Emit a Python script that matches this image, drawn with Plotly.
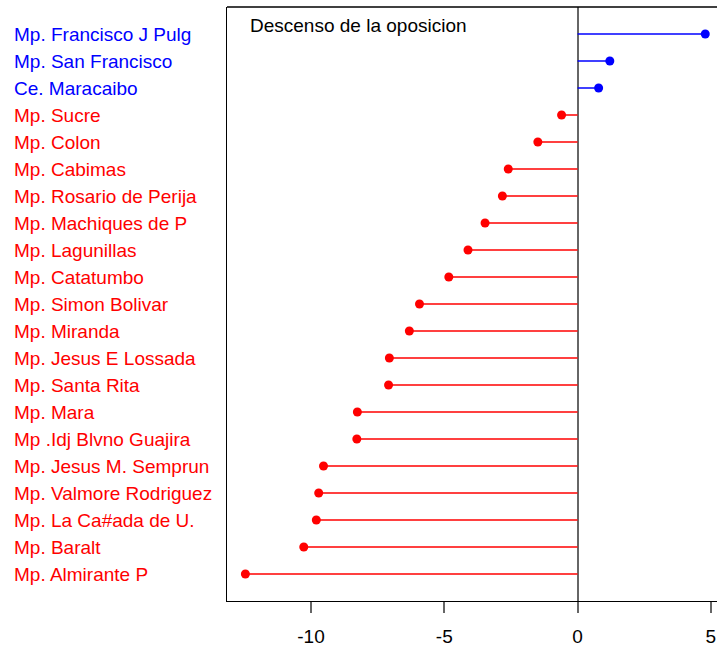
import plotly.graph_objects as go

categories = [
    "Mp. Almirante P", "Mp. Baralt", "Mp. La Ca#ada de U.", "Mp. Valmore Rodriguez",
    "Mp. Jesus M. Semprun", "Mp .Idj Blvno Guajira", "Mp. Mara", "Mp. Santa Rita",
    "Mp. Jesus E Lossada", "Mp. Miranda", "Mp. Simon Bolivar", "Mp. Catatumbo",
    "Mp. Lagunillas", "Mp. Machiques de P", "Mp. Rosario de Perija", "Mp. Cabimas",
    "Mp. Colon", "Mp. Sucre", "Ce. Maracaibo", "Mp. San Francisco", "Mp. Francisco J Pulg",
]
values = [
    -12.46, -10.27, -9.80, -9.71,
    -9.53, -8.28, -8.26, -7.09,
    -7.06, -6.31, -5.93, -4.83,
    -4.11, -3.47, -2.82, -2.60,
    -1.49, -0.60, 0.79, 1.21, 4.79,
]
tick_vals = [-10, -5, 0, 5]
title_text = "Descenso de la oposicion"

POS = "#0000FF"
NEG = "#FF0000"
colors = [POS if v > 0 else NEG for v in values]
rows = list(range(1, len(categories) + 1))

FONT = "Liberation Sans, Arial, sans-serif"

fig = go.Figure()

for color in (NEG, POS):
    xs, ys = [], []
    for r, v, c in zip(rows, values, colors):
        if c == color:
            xs += [0, v, None]
            ys += [r, r, None]
    fig.add_trace(go.Scatter(x=xs, y=ys, mode="lines",
                             line=dict(color=color, width=1.5),
                             hoverinfo="skip", showlegend=False))

fig.add_trace(go.Scatter(x=values, y=rows, mode="markers",
                         marker=dict(color=colors, size=9, line=dict(width=0)),
                         text=categories, showlegend=False, cliponaxis=False))

W, H = 717, 650
L, R, T, B = 227, 0, 7, 49
plot_w = W - L - R

annotations = []
for r, name, c in zip(rows, categories, colors):
    annotations.append(dict(x=(12 - L) / plot_w, xref="paper", y=r, yref="y",
                            text=name, showarrow=False, xanchor="left", yanchor="middle",
                            font=dict(family=FONT, size=19, color=c)))
annotations.append(dict(x=(248 - L) / plot_w, xref="paper", y=0.969, yref="paper",
                        text=title_text, showarrow=False, xanchor="left", yanchor="middle",
                        font=dict(family=FONT, size=19, color="black")))

fig.update_layout(
    width=W, height=H,
    margin=dict(l=L, r=R, t=T, b=B, pad=0),
    plot_bgcolor="white", paper_bgcolor="white",
    font=dict(family=FONT, size=19, color="black"),
    annotations=annotations,
    shapes=[dict(type="line", xref="paper", yref="paper", x0=0, x1=1, y0=1, y1=1,
                 line=dict(color="black", width=1.3))],
    xaxis=dict(range=[-13.15, 5.23], tickvals=tick_vals, ticktext=[str(t) for t in tick_vals],
               ticks="outside", ticklen=11, tickwidth=2, tickcolor="#666666",
               ticklabelstandoff=7,
               showgrid=False, zeroline=True, zerolinecolor="#666666", zerolinewidth=2,
               showline=True, linecolor="black", linewidth=1.3,
               tickfont=dict(family=FONT, size=19, color="black")),
    yaxis=dict(range=[0, 22], showticklabels=False, ticks="", showgrid=False,
               zeroline=False, showline=True, linecolor="black", linewidth=1.3),
)

fig.write_html("out.html",
               config={"displayModeBar": False},
               post_script="document.body.style.margin='0';"
                           "document.documentElement.style.overflow='hidden';")
